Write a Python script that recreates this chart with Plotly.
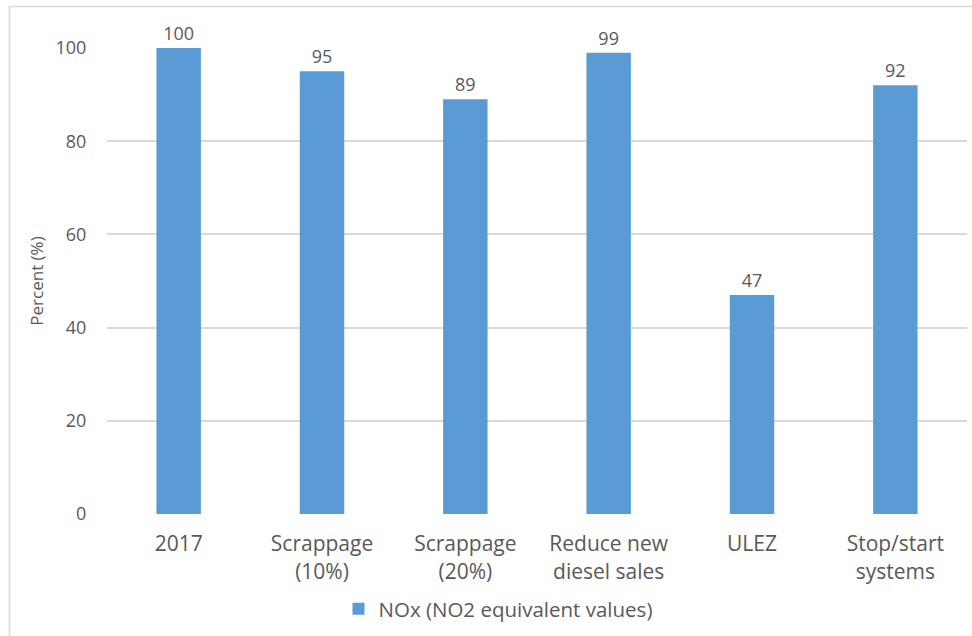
import plotly.graph_objects as go

# Chart data
categories = ["2017", "Scrappage<br>(10%)", "Scrappage<br>(20%)",
              "Reduce new<br>diesel sales", "ULEZ", "Stop/start<br>systems"]
nox_values = [100, 95, 89, 99, 47, 92]
y_ticks = [0, 20, 40, 60, 80, 100]

FONT = "Open Sans"
TXT = "#595959"
BAR = "#5b9bd5"
GRID = "#d9d9d9"

W, H = 972, 636
ML, MR, MT, MB = 107, 5, 48, 122
PW = W - ML - MR
PH = H - MT - MB

fig = go.Figure()
fig.add_trace(go.Bar(
    x=list(range(len(categories))),
    y=nox_values,
    name="NOx (NO2 equivalent values)",
    marker=dict(color=BAR, line=dict(width=0)),
    text=[str(v) for v in nox_values],
    textposition="outside",
    textfont=dict(family=FONT, size=18, color=TXT),
    cliponaxis=False,
))


def px_x(p):
    return (p - ML) / PW


def px_y(p):
    return (H - MB - p) / PH


# outer chart frame
fig.add_shape(type="rect", xref="paper", yref="paper",
              x0=px_x(9.5), x1=px_x(980), y0=px_y(6.5), y1=px_y(650),
              line=dict(color=GRID, width=1.5), fillcolor="rgba(0,0,0,0)",
              layer="below")

fig.update_layout(
    width=W, height=H,
    margin=dict(l=ML, r=MR, t=MT, b=MB),
    paper_bgcolor="white", plot_bgcolor="white",
    bargap=0.69,
    font=dict(family=FONT, color=TXT),
    showlegend=True,
    legend=dict(orientation="h", x=px_x(498), xanchor="center",
                y=px_y(609), yanchor="middle",
                font=dict(family=FONT, size=20.5, color=TXT)),
    xaxis=dict(
        tickmode="array", tickvals=list(range(len(categories))),
        ticktext=categories, range=[-0.5, len(categories) - 0.5],
        showgrid=False, zeroline=False, showline=False,
        tickfont=dict(family=FONT, size=21, color=TXT),
        ticks="outside", ticklen=11, tickcolor="rgba(0,0,0,0)",
    ),
    yaxis=dict(
        range=[0, 100], tickvals=y_ticks,
        showgrid=True, gridcolor=GRID, gridwidth=1.5,
        zeroline=False, showline=False,
        tickfont=dict(family=FONT, size=18, color=TXT),
        ticks="outside", ticklen=16, tickcolor="rgba(0,0,0,0)",
        title=dict(text="Percent (%)", standoff=7,
                   font=dict(family=FONT, size=17, color=TXT)),
    ),
)

fig.write_html("out.html")
